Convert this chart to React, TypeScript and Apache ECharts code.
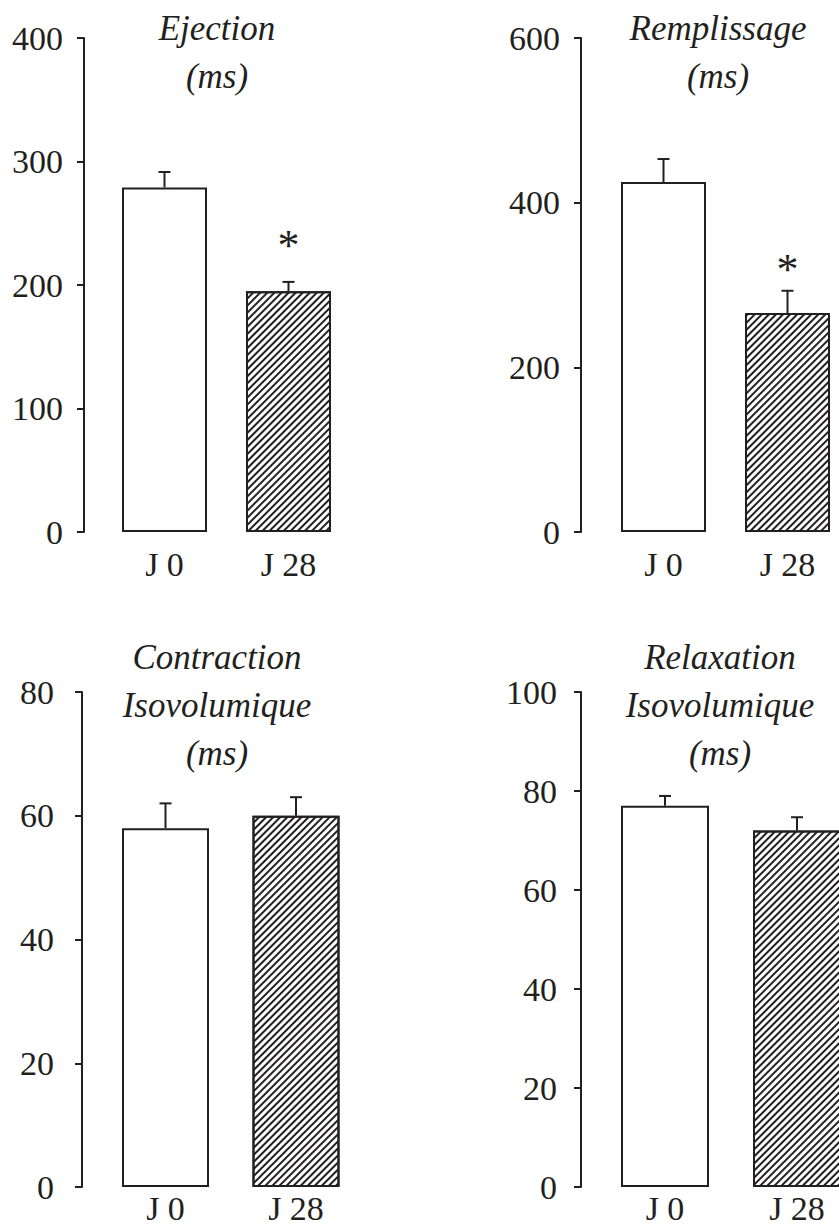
import React, { useEffect, useRef } from 'react';
import * as echarts from 'echarts';

const categories = ['J 0', 'J 28'];
const ejectionMean = [279, 195];
const ejectionSem = [12.5, 7.5];
const ejectionStar = [null, 235];
const remplissageMean = [425, 266];
const remplissageSem = [28, 27];
const remplissageStar = [null, 324];
const contractionMean = [58, 60];
const contractionSem = [4, 3];
const contractionStar = [null, null];
const relaxationMean = [77, 72];
const relaxationSem = [2, 2.7];
const relaxationStar = [null, null];
const titles = ['Ejection\n(ms)', 'Remplissage\n(ms)', 'Contraction\nIsovolumique\n(ms)', 'Relaxation\nIsovolumique\n(ms)'];
const yMax = [400, 600, 80, 100];
const yStep = [100, 200, 20, 20];

const W = 839;
const H = 1229;
const FONT = 'Liberation Serif';
const INK = '#231f20';

const layouts = [
  { left: 102.5, width: 248, top: 38, height: 494, offset: 18.5, barWidth: 85, titleX: 217, titleY: 4, labelMargin: 21, xMargin: 20 },
  { left: 601.5, width: 248, top: 38, height: 494, offset: 20.5, barWidth: 85, titleX: 718, titleY: 4, labelMargin: 21, xMargin: 20 },
  { left: 100.25, width: 261, top: 692, height: 495, offset: 18.25, barWidth: 87, titleX: 217, titleY: 633, labelMargin: 28, xMargin: 9 },
  { left: 599, width: 264, top: 692, height: 495, offset: 18, barWidth: 88, titleX: 720, titleY: 633, labelMargin: 24, xMargin: 9 },
];

const means = [ejectionMean, remplissageMean, contractionMean, relaxationMean];
const sems = [ejectionSem, remplissageSem, contractionSem, relaxationSem];
const stars = [ejectionStar, remplissageStar, contractionStar, relaxationStar];

const hatch = {
  symbol: 'rect',
  symbolSize: 1,
  dashArrayX: [1, 0],
  dashArrayY: [1.2, 2.5],
  rotation: -Math.PI / 4,
  color: INK,
  backgroundColor: '#ffffff',
};

const errRender = (params: any, api: any) => {
  const i = api.value(0);
  const base = api.coord([i, api.value(1)]);
  const top = api.coord([i, api.value(2)]);
  const hw = 6;
  return {
    type: 'group',
    children: [
      { type: 'line', shape: { x1: base[0], y1: base[1], x2: top[0], y2: top[1] }, style: { stroke: INK, lineWidth: 2 } },
      { type: 'line', shape: { x1: top[0] - hw, y1: top[1], x2: top[0] + hw, y2: top[1] }, style: { stroke: INK, lineWidth: 2 } },
    ],
  };
};

const starRender = (params: any, api: any) => {
  const p = api.coord([api.value(0), api.value(1)]);
  return {
    type: 'text',
    x: p[0],
    y: p[1] + 4,
    style: {
      text: '*',
      fontSize: 44,
      fontFamily: FONT,
      fill: INK,
      align: 'center',
      verticalAlign: 'middle',
    },
  };
};

function buildOption() {
  const grid: any[] = [];
  const xAxis: any[] = [];
  const yAxis: any[] = [];
  const series: any[] = [];
  const graphic: any[] = [];
  layouts.forEach((L, k) => {
    grid.push({ left: L.left, top: L.top, width: L.width, height: L.height, containLabel: false, outerBoundsMode: 'none' });
    xAxis.push({
      type: 'category',
      gridIndex: k,
      data: categories,
      axisLine: { show: false },
      axisTick: { show: false },
      axisLabel: { fontSize: 34, fontFamily: FONT, color: INK, margin: L.xMargin, lineHeight: 24 },
    });
    yAxis.push({
      type: 'value',
      gridIndex: k,
      min: 0,
      max: yMax[k],
      interval: yStep[k],
      offset: L.offset,
      axisLine: { show: true, lineStyle: { color: INK, width: 2 } },
      axisTick: { show: true, length: 7, lineStyle: { color: INK, width: 2 } },
      splitLine: { show: false },
      axisLabel: { fontSize: 34, fontFamily: FONT, color: INK, margin: L.labelMargin, padding: [9, 0, 0, 0] },
    });
    series.push({
      type: 'bar',
      xAxisIndex: k,
      yAxisIndex: k,
      barWidth: L.barWidth,
      data: means[k].map((v, i) => ({
        value: v,
        itemStyle: i === 0
          ? { color: '#ffffff', borderColor: INK, borderWidth: 2 }
          : { color: '#ffffff', borderColor: INK, borderWidth: 2, decal: hatch },
      })),
      z: 2,
    });
    series.push({
      type: 'custom',
      xAxisIndex: k,
      yAxisIndex: k,
      renderItem: errRender,
      data: means[k].map((v, i) => [i, v, v + sems[k][i]]),
      z: 3,
    });
    const starData = stars[k].map((v, i) => (v == null ? null : [i, v])).filter((d) => d != null);
    if (starData.length) {
      series.push({
        type: 'custom',
        xAxisIndex: k,
        yAxisIndex: k,
        renderItem: starRender,
        data: starData,
        z: 3,
      });
    }
    graphic.push({
      type: 'text',
      x: L.titleX,
      y: L.titleY,
      style: {
        text: titles[k],
        fontSize: 35,
        fontStyle: 'italic',
        fontFamily: FONT,
        lineHeight: 48,
        fill: INK,
        align: 'center',
        verticalAlign: 'top',
      },
    });
  });
  return { animation: false, backgroundColor: '#ffffff', grid, xAxis, yAxis, series, graphic };
}

export default function App() {
  const ref = useRef<HTMLDivElement>(null);
  useEffect(() => {
    if (!ref.current) return;
    const chart = echarts.init(ref.current, null, { renderer: 'svg' });
    chart.setOption(buildOption() as any);
    return () => chart.dispose();
  }, []);
  return <div ref={ref} style={{ position: 'absolute', left: 0, top: 0, width: W, height: H }} />;
}
